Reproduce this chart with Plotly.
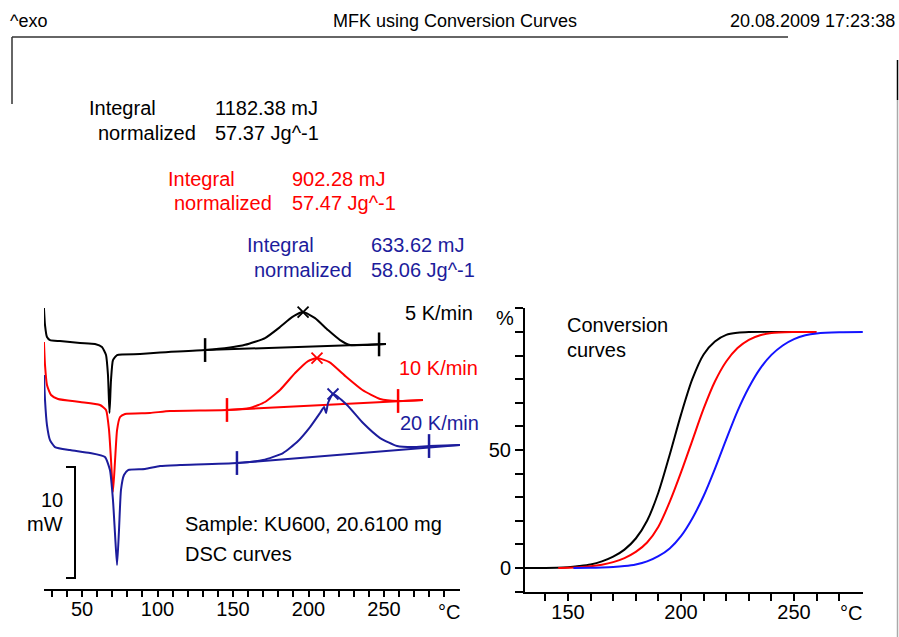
import plotly.graph_objects as go

W, H = 899, 637
FONT = "Liberation Sans, Arial, sans-serif"

BLACK = "#000000"
RED = "#ff0000"
NAVY = "#1c1c9c"
BLUE = "#1414ff"

# ---------------- DSC curves (temperature °C, heat flow mW with display offset) -------------
dsc_T_5 = [24.8, 25.5, 26.8, 28.8, 35.4, 48.7, 58.6, 63.2, 65.9, 67.2, 68.2, 69.2, 70.5, 73.2,
           88.4, 101.7, 131.5, 148.0, 158.0, 171.2, 181.1, 189.1, 196.4, 204.3, 212.9, 220.9,
           227.5, 237.4, 251.3]
dsc_mW_5 = [25.32, 23.78, 22.70, 22.43, 22.34, 22.16, 22.07, 21.80, 21.08, 19.28, 15.86, 18.83,
            20.63, 21.08, 21.17, 21.31, 21.53, 21.76, 22.00, 22.61, 23.60, 24.50, 24.95, 24.41,
            23.33, 22.43, 21.98, 21.98, 22.07]

dsc_T_10 = [24.8, 25.5, 26.8, 29.5, 34.1, 48.7, 61.9, 65.9, 67.9, 69.2, 70.5, 71.9, 73.2, 75.2,
            78.5, 95.0, 108.3, 146.0, 161.3, 171.2, 181.1, 191.1, 199.7, 205.6, 213.8, 225.1,
            235.7, 247.4, 259.3, 275.8]
dsc_mW_10 = [22.25, 20.18, 18.38, 17.48, 17.12, 16.85, 16.58, 16.13, 14.32, 11.62, 8.74, 11.62,
             14.32, 15.50, 15.77, 15.86, 16.04, 16.13, 16.31, 16.85, 17.93, 19.46, 20.54, 20.81,
             20.45, 19.10, 17.93, 17.12, 16.94, 17.03]

dsc_T_20 = [24.8, 25.5, 26.8, 28.8, 32.1, 42.1, 55.3, 65.2, 68.5, 70.5, 71.9, 73.2, 74.5, 75.8,
            77.8, 80.5, 91.7, 101.7, 114.9, 152.6, 169.9, 183.1, 192.4, 201.0, 207.6, 210.3,
            211.6, 212.9, 216.2, 225.5, 236.1, 247.4, 258.6, 269.2, 279.8, 300.3]
dsc_mW_20 = [19.28, 17.03, 14.77, 13.42, 12.79, 12.52, 12.25, 11.89, 10.72, 8.02, 4.86, 2.16,
             5.32, 8.92, 10.27, 10.72, 10.81, 11.08, 11.17, 11.35, 11.62, 12.25, 13.24, 14.59,
             15.86, 16.40, 15.86, 16.76, 17.57, 16.58, 14.95, 13.60, 12.88, 12.79, 12.88, 12.97]

# integration baselines (T start, T end), (mW start, mW end)
base_T_5, base_mW_5 = [131.5, 251.3], [21.53, 22.07]
base_T_10, base_mW_10 = [146.0, 275.8], [16.13, 17.03]
base_T_20, base_mW_20 = [152.6, 300.3], [11.35, 12.97]

# integration limits (marker positions)
lim_T_5, lim_mW_5 = [131.5, 246.7], [21.53, 22.04]
lim_T_10, lim_mW_10 = [146.0, 259.3], [16.13, 16.94]
lim_T_20, lim_mW_20 = [152.6, 279.8], [11.35, 12.88]

# peaks
peak_T = [196.4, 205.6, 216.2]
peak_mW = [24.95, 20.81, 17.57]

rate_labels = ["5 K/min", "10 K/min", "20 K/min"]

# ---------------- Conversion curves (temperature °C, conversion %) -----------------------
conv_T_5 = [131.0, 145.0, 150.0, 155.0, 160.0, 165.0, 170.0, 175.0, 180.0, 185.0, 190.0, 195.0,
            200.0, 205.0, 210.0, 215.0, 220.0, 225.0, 230.0, 250.0]
conv_5 = [0, 0.1, 0.3, 0.8, 1.5, 2.8, 4.8, 7.8, 12.5, 20.0, 32.0, 48.0, 65.0, 80.0, 90.5, 96.0,
          98.8, 99.7, 100, 100]

conv_T_10 = [145.7, 150.0, 155.0, 160.0, 165.0, 170.0, 175.0, 180.0, 185.0, 190.0, 195.0, 200.0,
             205.0, 210.0, 215.0, 220.0, 225.0, 230.0, 235.0, 240.0, 250.0, 260.0]
conv_10 = [0, 0.1, 0.3, 0.7, 1.4, 2.5, 4.2, 6.8, 10.8, 17.5, 28.0, 40.5, 54.0, 67.5, 79.0, 87.5,
           93.2, 96.7, 98.6, 99.6, 100, 100]

conv_T_20 = [152.4, 160.0, 165.0, 170.0, 175.0, 180.0, 185.0, 190.0, 195.0, 200.0, 205.0, 210.0,
             215.0, 220.0, 225.0, 230.0, 235.0, 240.0, 245.0, 250.0, 255.0, 260.0, 270.0, 280.4]
conv_20 = [0, 0.1, 0.2, 0.4, 0.8, 1.5, 2.8, 5.0, 8.3, 13.5, 21.0, 30.5, 42.0, 54.5, 66.5, 76.5,
           84.5, 90.3, 94.3, 97.0, 98.6, 99.4, 99.9, 100]

# axis ticks
dsc_major = [50, 100, 150, 200, 250]
dsc_minor = [v for v in range(30, 300, 10) if v not in dsc_major]
conv_x_major = [150, 200, 250]
conv_x_minor = [v for v in range(140, 280, 10) if v not in conv_x_major]
conv_y_major = [0, 50]
conv_y_minor = [v for v in range(-10, 120, 10) if v not in conv_y_major]

integral_rows = [
    ("Integral", "1182.38 mJ", "normalized", "57.37 Jg^-1"),
    ("Integral", "902.28 mJ", "normalized", "57.47 Jg^-1"),
    ("Integral", "633.62 mJ", "normalized", "58.06 Jg^-1"),
]


def X(px):
    return px / W


def Y(py):
    return 1 - py / H


fig = go.Figure()

dsc_sets = [
    (dsc_T_5, dsc_mW_5, base_T_5, base_mW_5, lim_T_5, lim_mW_5, BLACK),
    (dsc_T_10, dsc_mW_10, base_T_10, base_mW_10, lim_T_10, lim_mW_10, RED),
    (dsc_T_20, dsc_mW_20, base_T_20, base_mW_20, lim_T_20, lim_mW_20, NAVY),
]
for i, (t, v, bt, bv, lt, lv, col) in enumerate(dsc_sets):
    fig.add_trace(go.Scatter(x=t, y=v, mode="lines", line=dict(color=col, width=2, shape="spline", smoothing=0.5),
                             xaxis="x", yaxis="y", hoverinfo="skip"))
    fig.add_trace(go.Scatter(x=bt, y=bv, mode="lines", line=dict(color=col, width=2),
                             xaxis="x", yaxis="y", hoverinfo="skip"))
    fig.add_trace(go.Scatter(x=lt, y=lv, mode="markers",
                             marker=dict(symbol="line-ns-open", size=17, color=col, line=dict(color=col, width=2.5)),
                             xaxis="x", yaxis="y", hoverinfo="skip"))
    fig.add_trace(go.Scatter(x=[peak_T[i]], y=[peak_mW[i]], mode="markers",
                             marker=dict(symbol="x-thin-open", size=11, color=col, line=dict(color=col, width=1.8)),
                             xaxis="x", yaxis="y", hoverinfo="skip"))

for t, c, col in [(conv_T_5, conv_5, BLACK), (conv_T_10, conv_10, RED), (conv_T_20, conv_20, BLUE)]:
    fig.add_trace(go.Scatter(x=t, y=c, mode="lines", line=dict(color=col, width=2, shape="spline", smoothing=0.8),
                             xaxis="x2", yaxis="y2", hoverinfo="skip"))

tickfont = dict(family=FONT, size=20, color="black")


def axis_common(major, minor, ticklen, standoff):
    return dict(showline=True, linecolor="black", linewidth=2, showgrid=False, zeroline=False,
                ticks="outside", ticklen=ticklen, tickwidth=2, tickcolor="black",
                tickmode="array", tickvals=major, ticktext=[str(v) for v in major],
                tickfont=tickfont, ticklabelstandoff=standoff,
                minor=dict(tickmode="array", tickvals=minor, ticks="outside", ticklen=ticklen,
                           tickwidth=2, tickcolor="black", showgrid=False))


fig.update_layout(
    width=W, height=H,
    margin=dict(l=0, r=0, t=0, b=0),
    paper_bgcolor="white", plot_bgcolor="white",
    showlegend=False,
    xaxis=dict(domain=[X(44), X(460)], range=[24.83, 300.3], anchor="y",
               **axis_common(dsc_major, dsc_minor, 6, -5)),
    yaxis=dict(domain=[Y(589), Y(300)], range=[0, 26.04], anchor="x", visible=False),
    xaxis2=dict(domain=[X(525), X(863)], range=[131, 280.5], anchor="y2",
                **axis_common(conv_x_major, conv_x_minor, 7, -6)),
    yaxis2=dict(domain=[Y(591.6), Y(308.4)], range=[-10, 110], anchor="x2",
                **axis_common(conv_y_major, conv_y_minor, 8, 0)),
)

# scale bar: 10 mW (from 1 to 11 mW in the DSC y units)
fig.add_shape(type="path", xref="paper", yref="y",
              path=f"M {X(66)},1 L {X(75)},1 L {X(75)},11 L {X(66)},11",
              line=dict(color="black", width=2))

# frame artefacts
fig.add_shape(type="line", xref="paper", yref="paper", x0=X(12), x1=X(788), y0=Y(37), y1=Y(37),
              line=dict(color="#333333", width=1.5))
fig.add_shape(type="line", xref="paper", yref="paper", x0=X(12), x1=X(12), y0=Y(37), y1=Y(104),
              line=dict(color="#333333", width=1.5))
fig.add_shape(type="line", xref="paper", yref="paper", x0=X(897.5), x1=X(897.5), y0=Y(60), y1=Y(100),
              line=dict(color="black", width=1.5))
fig.add_shape(type="line", xref="paper", yref="paper", x0=X(897.5), x1=X(897.5), y0=Y(100), y1=Y(637),
              line=dict(color="#aaaaaa", width=1.5))


def txt(s, px, py, anchor="left", size=20, color="black", family=FONT):
    fig.add_annotation(text=s, x=X(px), y=Y(py), xref="paper", yref="paper", showarrow=False,
                       xanchor=anchor, yanchor="middle", font=dict(family=family, size=size, color=color))


# header
txt("^exo", 8, 21, "left", 18)
txt("MFK using Conversion Curves", 455, 21, "center", 18)
txt("20.08.2009 17:23:38", 897, 21, "right", 18)

# integral blocks
int_pos = [(87, 213, 198, 108, 133, BLACK), (166, 290, 274, 179, 203, RED), (245, 369, 354, 245, 270, NAVY)]
for (lab1, val1, lab2, val2), (xl, xv, xr, y1, y2, col) in zip(integral_rows, int_pos):
    txt(lab1, xl, y1, "left", 20, col)
    txt(val1, xv, y1, "left", 20, col)
    txt(lab2, xr, y2, "right", 20, col)
    txt(val2, xv, y2, "left", 20, col)

# rate labels
for lab, (px, py), col in zip(rate_labels, [(403, 313), (397, 368), (398, 423)], [BLACK, RED, NAVY]):
    txt(lab, px, py, "left", 20, col)

txt("10", 65, 500, "right")
txt("mW", 65, 524, "right")
txt("Sample: KU600, 20.6100 mg", 183, 524, "left")
txt("DSC curves", 183, 554, "left")
txt("°C", 449, 612, "center")

txt("%", 505, 318, "center")
txt("Conversion", 565, 325, "left")
txt("curves", 565, 350, "left")
txt("°C", 851, 613, "center")

fig.write_html("out.html", config={"displayModeBar": False, "staticPlot": True},
               post_script="document.body.style.margin='0px';document.body.style.overflow='hidden';")
